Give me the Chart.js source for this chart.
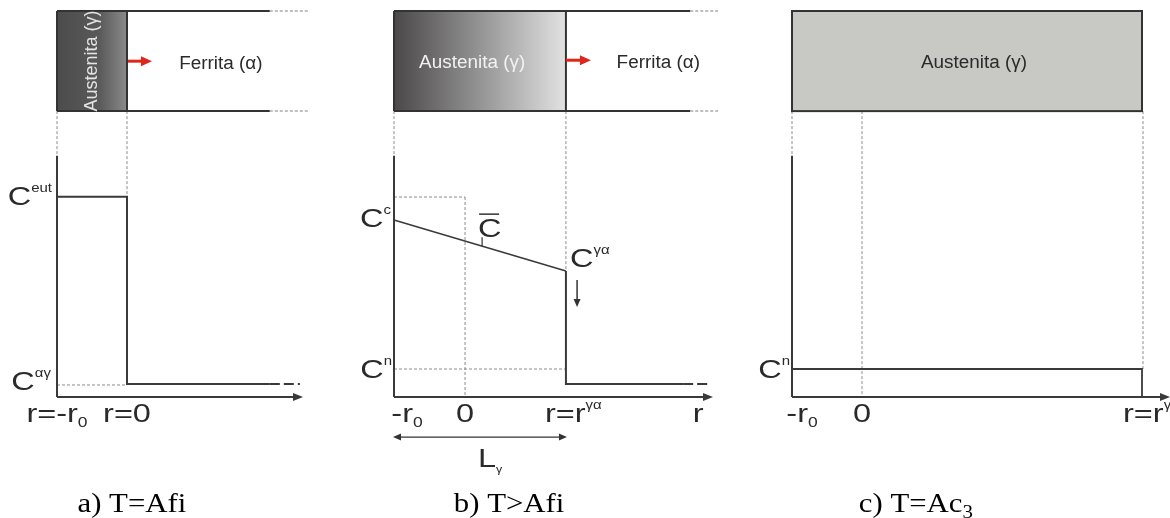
<!DOCTYPE html>
<html><head><meta charset="utf-8">
<script src="https://cdn.jsdelivr.net/npm/chart.js@4.4.0/dist/chart.umd.min.js"></script>
<style>
html,body{margin:0;padding:0;background:#fff;}
body{width:1170px;height:518px;overflow:hidden;position:relative;}
canvas{position:absolute;left:0;top:0;}
</style>
</head><body>
<canvas id="ca" width="1170" height="518"></canvas>
<canvas id="cb" width="1170" height="518"></canvas>
<canvas id="cc" width="1170" height="518"></canvas>
<script>
// ---------- data (normalised units: x -> -r0 = -1, interface/0 = 0 ; y -> concentration) ----------
const BOX_BOTTOM = 1.185, BOX_TOP = 1.6, AXIS_TOP = 1.0;

// Panel a) T=Afi
const aProfileX = [-1, 0, 0, 2.04];
const aProfileY = [0.83, 0.83, 0.054, 0.054];
const aTailX = [2.04, 2.47];
const aTailY = [0.054, 0.054];
const aCeut = 0.83, aCag = 0.054;
const aTicks = [-1, 0];

// Panel b) T>Afi
const bProfileX = [-1, 1.42, 1.42, 3.07];
const bProfileY = [0.734, 0.522, 0.054, 0.054];
const bTailX = [3.07, 3.42];
const bTailY = [0.054, 0.054];
const bCc = 0.734, bCga = 0.522, bCn = 0.116, bCmean = 0.829;
const bTicks = [-1, 0, 1.42, 3.28];

// Panel c) T=Ac3
const cProfileX = [-1, 4.0, 4.0];
const cProfileY = [0.116, 0.116, 0];
const cCn = 0.116;
const cTicks = [-1, 0, 4.0];

const captions = ['a) T=Afi', 'b) T>Afi', 'c) T=Ac'];

// ---------- helpers ----------
const SANS = '"Liberation Sans", Arial, sans-serif';
const BIG = '26px ' + SANS, SUP = '12px ' + SANS, SUB = '14px ' + SANS, BOXF = '18px ' + SANS;
const SERIF = '28px "Liberation Serif", "Times New Roman", serif';
const INK = '#333', GUIDE = '#8c8c8c';

function pts(xs, ys) { return xs.map((x, i) => ({x, y: ys[i]})); }
function rich(ctx, x, y, parts, align, sx, color) {
  ctx.save(); ctx.translate(x, y); ctx.scale(sx, 1);
  ctx.fillStyle = color || '#2a2a2a'; ctx.textBaseline = 'alphabetic'; ctx.textAlign = 'left';
  let w = 0; for (const p of parts) { ctx.font = p.font; w += ctx.measureText(p.t).width; }
  let cx = align === 'center' ? -w / 2 : align === 'right' ? -w : 0;
  for (const p of parts) { ctx.font = p.font; ctx.fillText(p.t, cx, p.dy || 0); cx += ctx.measureText(p.t).width; }
  ctx.restore();
}
function Csup(s) { return [{t: 'C', font: BIG}, {t: s, font: SUP, dy: -13}]; }
function line(ctx, x1, y1, x2, y2, color, w, dash) {
  ctx.save(); ctx.beginPath(); ctx.strokeStyle = color; ctx.lineWidth = w; ctx.setLineDash(dash || []);
  ctx.moveTo(x1, y1); ctx.lineTo(x2, y2); ctx.stroke(); ctx.restore();
}
function head(ctx, x, y, ang, len, hw, color) {
  ctx.save(); ctx.translate(x, y); ctx.rotate(ang); ctx.beginPath(); ctx.fillStyle = color;
  ctx.moveTo(0, 0); ctx.lineTo(-len, -hw); ctx.lineTo(-len, hw); ctx.closePath(); ctx.fill(); ctx.restore();
}
function guide(ctx, x1, y1, x2, y2) { line(ctx, x1, y1, x2, y2, GUIDE, 1, [3, 2]); }
function xAxis(ctx, X, Y, xMax) {
  line(ctx, X(-1), Y(0), X(xMax) - 6, Y(0), '#3a3a3a', 2);
  head(ctx, X(xMax), Y(0), 0, 10, 4, '#3a3a3a');
  line(ctx, X(-1), Y(0), X(-1), Y(AXIS_TOP), '#3a3a3a', 2);
}
function tickText(ctx, x, Y, parts, align) { rich(ctx, x, Y(0) + 25, parts, align || 'center', 1.25); }
function caption(ctx, x, y, parts) { rich(ctx, x, y, parts, 'center', 1.1, '#000'); }

function makeChart(id, pad, xMax, datasets, before, after) {
  return new Chart(document.getElementById(id), {
    type: 'scatter',
    data: {datasets: datasets.map(d => Object.assign({
      showLine: true, borderColor: '#3a3a3a', borderWidth: 2, pointRadius: 0, fill: false, tension: 0, clip: false
    }, d))},
    options: {
      responsive: false, animation: false, events: [],
      layout: {padding: pad},
      plugins: {legend: {display: false}, tooltip: {enabled: false}, title: {display: false}},
      scales: {
        x: {type: 'linear', min: -1, max: xMax, display: false},
        y: {type: 'linear', min: 0, max: BOX_TOP, display: false}
      }
    },
    plugins: [{id: 'deco',
      beforeDatasetsDraw(c) { const X = v => c.scales.x.getPixelForValue(v), Y = v => c.scales.y.getPixelForValue(v); before(c.ctx, X, Y); },
      afterDatasetsDraw(c) { const X = v => c.scales.x.getPixelForValue(v), Y = v => c.scales.y.getPixelForValue(v); after(c.ctx, X, Y); }
    }]
  });
}

// ---------- Panel a ----------
makeChart('ca', {left: 57, right: 1170 - 303, top: 11, bottom: 518 - 397}, 2.514,
  [{data: pts(aProfileX, aProfileY)},
   {data: pts(aTailX, aTailY), borderDash: [10, 4]}],
  (ctx, X, Y) => {
    const g = ctx.createLinearGradient(X(-1), 0, X(0), 0);
    g.addColorStop(0, '#4d4c4c'); g.addColorStop(0.6, '#5a5959'); g.addColorStop(1, '#8a8a8a');
    ctx.fillStyle = g; ctx.fillRect(X(-1), Y(BOX_TOP), X(0) - X(-1), Y(BOX_BOTTOM) - Y(BOX_TOP));
    guide(ctx, X(-1), Y(BOX_BOTTOM), X(-1), Y(AXIS_TOP));
    guide(ctx, X(0), Y(BOX_BOTTOM), X(0), Y(aCeut));
    guide(ctx, X(-1), Y(aCag) + 1, X(0), Y(aCag) + 1);
  },
  (ctx, X, Y) => {
    // box
    for (const yy of [BOX_TOP, BOX_BOTTOM]) {
      line(ctx, X(-1), Y(yy), X(2.04), Y(yy), INK, 2);
      line(ctx, X(2.04), Y(yy), X(2.59), Y(yy), '#aaa', 1.5, [3, 2]);
    }
    line(ctx, X(-1), Y(BOX_TOP), X(-1), Y(BOX_BOTTOM), INK, 2);
    line(ctx, X(0), Y(BOX_TOP), X(0), Y(BOX_BOTTOM), INK, 2);
    // vertical phase label
    ctx.save(); ctx.translate(X(-0.5), Y((BOX_TOP + BOX_BOTTOM) / 2)); ctx.rotate(-Math.PI / 2);
    ctx.font = BOXF; ctx.fillStyle = '#e4e4e4'; ctx.textAlign = 'center'; ctx.textBaseline = 'middle';
    ctx.fillText('Austenita (γ)', 0, 0); ctx.restore();
    rich(ctx, X(1.34), Y(1.39) + 7, [{t: 'Ferrita (α)', font: BOXF}], 'center', 1.05);
    // red arrow
    const ya = Y(1.392);
    line(ctx, X(0) + 1, ya, X(0) + 16, ya, '#e0251b', 3);
    head(ctx, X(0) + 25, ya, 0, 11, 5, '#e0251b');
    xAxis(ctx, X, Y, 2.514);
    rich(ctx, X(-1) - 5, Y(aCeut) + 8, Csup('eut'), 'right', 1.25);
    rich(ctx, X(-1) - 6, Y(aCag) + 6, Csup('αγ'), 'right', 1.25);
    tickText(ctx, X(aTicks[0]), Y, [{t: 'r=-r', font: BIG}, {t: '0', font: SUB, dy: 5}]);
    tickText(ctx, X(aTicks[1]), Y, [{t: 'r=0', font: BIG}]);
    caption(ctx, X(0.07), 512, [{t: captions[0], font: SERIF}]);
  });

// ---------- Panel b ----------
makeChart('cb', {left: 394, right: 1170 - 713, top: 11, bottom: 518 - 397}, 3.49,
  [{data: pts(bProfileX.slice(0, 2), bProfileY.slice(0, 2)), borderWidth: 1.6},
   {data: pts(bProfileX.slice(1), bProfileY.slice(1))},
   {data: pts(bTailX, bTailY), borderDash: [10, 4]}],
  (ctx, X, Y) => {
    const g = ctx.createLinearGradient(X(-1), 0, X(1.42), 0);
    g.addColorStop(0, '#4a4848'); g.addColorStop(0.5, '#959494'); g.addColorStop(1, '#e2e2e2');
    ctx.fillStyle = g; ctx.fillRect(X(-1), Y(BOX_TOP), X(1.42) - X(-1), Y(BOX_BOTTOM) - Y(BOX_TOP));
    guide(ctx, X(-1), Y(BOX_BOTTOM), X(-1), Y(AXIS_TOP));
    guide(ctx, X(1.42), Y(BOX_BOTTOM), X(1.42), Y(bCga));
    guide(ctx, X(-1), Y(bCmean), X(0), Y(bCmean));
    guide(ctx, X(0), Y(bCmean), X(0), Y(0));
    guide(ctx, X(-1), Y(bCn), X(1.42), Y(bCn));
  },
  (ctx, X, Y) => {
    for (const yy of [BOX_TOP, BOX_BOTTOM]) {
      line(ctx, X(-1), Y(yy), X(3.17), Y(yy), INK, 2);
      line(ctx, X(3.17), Y(yy), X(3.56), Y(yy), '#aaa', 1.5, [3, 2]);
    }
    line(ctx, X(-1), Y(BOX_TOP), X(-1), Y(BOX_BOTTOM), INK, 2);
    line(ctx, X(1.42), Y(BOX_TOP), X(1.42), Y(BOX_BOTTOM), INK, 2);
    rich(ctx, X(0.1), Y(1.392) + 7, [{t: 'Austenita (γ)', font: BOXF}], 'center', 1.05, '#f2f2f2');
    rich(ctx, X(2.72), Y(1.392) + 7, [{t: 'Ferrita (α)', font: BOXF}], 'center', 1.05);
    const ya = Y(1.396);
    line(ctx, X(1.42), ya, X(1.42) + 15, ya, '#e0251b', 3);
    head(ctx, X(1.42) + 25, ya, 0, 11, 5, '#e0251b');
    xAxis(ctx, X, Y, 3.49);
    // labels
    rich(ctx, X(-1) - 3, Y(bCc) + 7, Csup('c'), 'right', 1.25);
    rich(ctx, X(1.42) + 4, Y(bCga) - 4, Csup('γα'), 'left', 1.25);
    rich(ctx, X(-1) - 2, Y(bCn) + 9, Csup('n'), 'right', 1.25);
    // C-bar label with pointer
    const tx = X(0.24), ty = Y(bCc + (bCga - bCc) * (1.24 / 2.42));
    line(ctx, tx, ty, tx, ty - 9, INK, 1.2);
    rich(ctx, tx - 4, ty - 9, [{t: 'C', font: BIG}], 'left', 1.25);
    line(ctx, tx - 3, ty - 32, tx + 17, ty - 32, INK, 1.5);
    // down arrow
    line(ctx, X(1.577), Y(0.485), X(1.577), Y(0.373) - 6, INK, 1.5);
    head(ctx, X(1.577), Y(0.373), Math.PI / 2, 8, 3.5, INK);
    // ticks
    tickText(ctx, X(bTicks[0]) + 13, Y, [{t: '-r', font: BIG}, {t: '0', font: SUB, dy: 5}]);
    tickText(ctx, X(bTicks[1]), Y, [{t: '0', font: BIG}]);
    tickText(ctx, X(bTicks[2]) - 21, Y, [{t: 'r=r', font: BIG}, {t: 'γα', font: SUP, dy: -13}], 'left');
    tickText(ctx, X(bTicks[3]), Y, [{t: 'r', font: BIG}]);
    // L gamma
    const yl = Y(-0.166);
    line(ctx, X(-1) + 6, yl, X(1.42) - 6, yl, INK, 1.3);
    head(ctx, X(-1) - 1, yl, Math.PI, 8, 3.5, INK);
    head(ctx, X(1.42) + 1, yl, 0, 8, 3.5, INK);
    rich(ctx, (X(-1) + X(1.42)) / 2 - 2, Y(-0.29), [{t: 'L', font: BIG}, {t: 'γ', font: '10px ' + SANS, dy: 6}], 'left', 1.25);
    caption(ctx, X(0.62), 512, [{t: captions[1], font: SERIF}]);
  });

// ---------- Panel c ----------
makeChart('cc', {left: 792, right: 0, top: 11, bottom: 518 - 397}, 4.4,
  [{data: pts(cProfileX, cProfileY), borderWidth: 1.8}],
  (ctx, X, Y) => {
    ctx.fillStyle = '#c8c8c5';
    ctx.fillRect(X(-1), Y(BOX_TOP), X(4.0) - X(-1), Y(BOX_BOTTOM) - Y(BOX_TOP));
    guide(ctx, X(-1), Y(BOX_BOTTOM), X(-1), Y(AXIS_TOP));
    guide(ctx, X(0), Y(BOX_BOTTOM), X(0), Y(0));
    guide(ctx, X(4.0) + 1, Y(BOX_BOTTOM), X(4.0) + 1, Y(cCn));
  },
  (ctx, X, Y) => {
    ctx.save(); ctx.strokeStyle = INK; ctx.lineWidth = 2;
    ctx.strokeRect(X(-1), Y(BOX_TOP), X(4.0) - X(-1), Y(BOX_BOTTOM) - Y(BOX_TOP)); ctx.restore();
    rich(ctx, X(1.6), Y(1.392) + 7, [{t: 'Austenita (γ)', font: BOXF}], 'center', 1.05);
    xAxis(ctx, X, Y, 4.4);
    rich(ctx, X(-1) - 2, Y(cCn) + 9, Csup('n'), 'right', 1.25);
    tickText(ctx, X(cTicks[0]) + 10, Y, [{t: '-r', font: BIG}, {t: '0', font: SUB, dy: 5}]);
    tickText(ctx, X(cTicks[1]), Y, [{t: '0', font: BIG}]);
    tickText(ctx, X(cTicks[2]) - 19, Y, [{t: 'r=r', font: BIG}, {t: 'γ', font: SUP, dy: -13}], 'left');
    caption(ctx, X(0.77), 512, [{t: captions[2], font: SERIF}, {t: '3', font: '19px "Liberation Serif", serif', dy: 6}]);
  });
</script>
</body></html>
